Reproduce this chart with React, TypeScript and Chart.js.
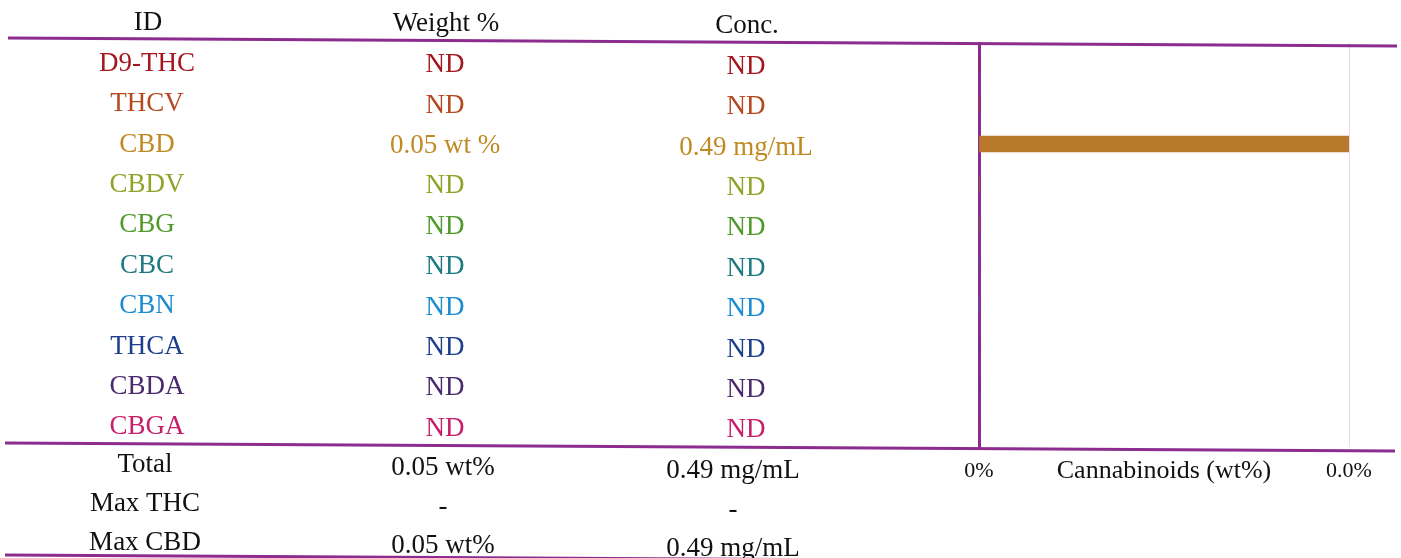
import React, { useEffect, useRef } from "react";
import { Chart, registerables } from "chart.js";

Chart.register(...registerables);

// ---- data ----
const ids = ["D9-THC", "THCV", "CBD", "CBDV", "CBG", "CBC", "CBN", "THCA", "CBDA", "CBGA"];
const weightPct = [0, 0, 0.05, 0, 0, 0, 0, 0, 0, 0];
const weightText = ["ND", "ND", "0.05 wt %", "ND", "ND", "ND", "ND", "ND", "ND", "ND"];
const concText = ["ND", "ND", "0.49 mg/mL", "ND", "ND", "ND", "ND", "ND", "ND", "ND"];
const rowColors = ["#a5161e", "#b5481f", "#c08a22", "#8ea52a", "#4f9a2c", "#1d7a80", "#1b8cd2", "#1d3f8c", "#4a2a6c", "#c81d6a"];
const barColors = ["#a5161e", "#b5481f", "#b87a2a", "#8ea52a", "#4f9a2c", "#1d7a80", "#1b8cd2", "#1d3f8c", "#4a2a6c", "#c81d6a"];
const headers = ["ID", "Weight %", "Conc."];
const summaryLabels = ["Total", "Max THC", "Max CBD"];
const summaryWeight = ["0.05 wt%", "-", "0.05 wt%"];
const summaryConc = ["0.49 mg/mL", "-", "0.49 mg/mL"];
const xTickLabels = ["0%", "0.0%"];
const xAxisTitle = "Cannabinoids (wt%)";
const xMax = 0.05;

const SERIF = '"Liberation Serif", "Times New Roman", serif';
const PURPLE = "#8b2c8e";

const tablePlugin = {
  id: "tablePlugin",
  afterDraw(chart: any) {
    const ctx = chart.ctx as CanvasRenderingContext2D;
    const yScale = chart.scales.y;
    ctx.save();
    // rules
    ctx.strokeStyle = PURPLE;
    ctx.lineWidth = 3;
    const rules = [
      [8, 38, 1397, 46],
      [5, 443, 1395, 451],
      [5, 555, 1395, 563],
    ];
    for (const [x1, y1, x2, y2] of rules) {
      ctx.beginPath();
      ctx.moveTo(x1, y1);
      ctx.lineTo(x2, y2);
      ctx.stroke();
    }
    ctx.textAlign = "center";
    ctx.textBaseline = "middle";
    ctx.font = `27px ${SERIF}`;
    ctx.fillStyle = "#111";
    // headers
    ctx.fillText(headers[0], 148, 23);
    ctx.fillText(headers[1], 446, 24);
    ctx.fillText(headers[2], 747, 26);
    // rows
    ids.forEach((id, i) => {
      const c = yScale.getPixelForValue(i);
      ctx.fillStyle = rowColors[i];
      ctx.fillText(id, 147, c + 0.5);
      ctx.fillText(weightText[i], 445, c + 2);
      ctx.fillText(concText[i], 746, c + 3.5);
    });
    // summary
    ctx.fillStyle = "#111";
    const sy = [465, 504, 543];
    summaryLabels.forEach((l, i) => {
      ctx.fillText(l, 145, sy[i]);
      ctx.fillText(summaryWeight[i], 443, sy[i] + 3);
      ctx.fillText(summaryConc[i], 733, sy[i] + 6);
    });
    ctx.restore();
  },
};

export default function App() {
  const ref = useRef<HTMLCanvasElement | null>(null);
  useEffect(() => {
    if (!ref.current) return;
    const chart = new Chart(ref.current, {
      type: "bar",
      data: {
        labels: ids,
        datasets: [
          {
            data: weightPct,
            backgroundColor: barColors,
            borderWidth: 0,
            barThickness: 16,
          },
        ],
      },
      options: {
        indexAxis: "y",
        responsive: false,
        animation: false,
        layout: { padding: { left: 979, right: 52, top: 43, bottom: 71 } },
        plugins: { legend: { display: false }, tooltip: { enabled: false } },
        scales: {
          x: {
            type: "linear",
            min: 0,
            max: xMax,
            ticks: {
              stepSize: xMax,
              padding: 11,
              color: "#111",
              font: { family: SERIF, size: 22 },
              callback: (_v: any, idx: number) => xTickLabels[idx],
            },
            grid: { color: "#ead6ee", lineWidth: 1, drawTicks: false },
            border: { display: false },
            title: {
              display: true,
              text: xAxisTitle,
              color: "#111",
              font: { family: SERIF, size: 26 },
              padding: { top: 0, bottom: 0 },
            },
            afterFit: (s: any) => {
              s.height = 40;
            },
          },
          y: {
            type: "category",
            ticks: { display: false },
            grid: { display: false, drawTicks: false },
            border: { display: true, color: PURPLE, width: 3 },
            afterFit: (s: any) => {
              s.width = 0;
            },
          },
        },
      } as any,
      plugins: [tablePlugin],
    });
    return () => chart.destroy();
  }, []);
  return (
    <div style={{ position: "fixed", left: 0, top: 0, width: 1401, height: 558, background: "#fff" }}>
      <canvas ref={ref} width={1401} height={558} style={{ display: "block" }} />
    </div>
  );
}
